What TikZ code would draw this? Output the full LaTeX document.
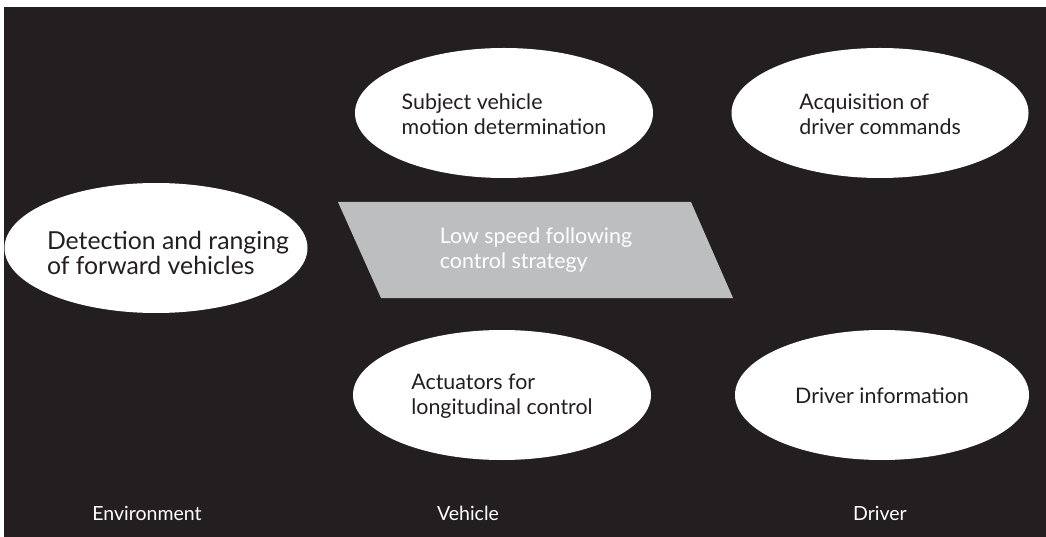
\documentclass[tikz,border=0pt]{standalone}
\usepackage{fontspec}
\setmainfont{Lato}
\usetikzlibrary{shapes.geometric}
\definecolor{bg}{HTML}{231F20}
\definecolor{para}{HTML}{BCBEC0}
\begin{document}
\begin{tikzpicture}[x=1pt,y=-1pt,
  oval/.style={ellipse, fill=white, inner sep=0pt, minimum height=130pt},
  ovaltext/.style={align=left, inner sep=0pt, text=bg, font=\fontsize{21.4}{25}\selectfont},
  bigtext/.style={align=left, inner sep=0pt, text=bg, font=\fontsize{24.8}{24.5}\selectfont},
  stratbox/.style={fill=para},
  strattext/.style={align=left, inner sep=0pt, text=white, font=\fontsize{21.4}{25}\selectfont},
  lane/.style={anchor=base, inner sep=0pt, text=white, font=\fontsize{19.5}{22}\selectfont}]
\useasboundingbox (0,0) rectangle (1046,537);
\fill[bg] (4,7.5) rectangle (1046,537);
% ellipses
\node[oval, minimum width=303pt] (detect) at (156,248) {};
\node[oval, minimum width=298pt] (subject) at (504,113) {};
\node[oval, minimum width=297pt] (acquis) at (880,113) {};
\node[oval, minimum width=298pt] (actuat) at (502,395) {};
\node[oval, minimum width=294pt] (drvinfo) at (882,395) {};
% ellipse texts
\node[bigtext] (detect-t) at ([xshift=12pt,yshift=-5pt]detect.center) {Detection and ranging\\of forward vehicles};
\node[ovaltext] (subject-t) at ([yshift=-1pt]subject.center) {Subject vehicle\\motion determination};
\node[ovaltext] (acquis-t) at ([yshift=-1pt]acquis.center) {Acquisition of\\driver commands};
\node[ovaltext] (actuat-t) at ([yshift=-1pt]actuat.center) {Actuators for\\longitudinal control};
\node[ovaltext] (drvinfo-t) at ([yshift=-1pt]drvinfo.center) {Driver information};
% strategy parallelogram
\fill[stratbox] (338,202) -- (691,202) -- (733,298) -- (381,298) -- cycle;
\node[strattext] (strategy) at (536,250) {Low speed following\\control strategy};
% lane labels
\node[lane] (env) at (147,520) {Environment};
\node[lane] (veh) at (468,520) {Vehicle};
\node[lane] (drv) at (880,520) {Driver};
\end{tikzpicture}
\end{document}
